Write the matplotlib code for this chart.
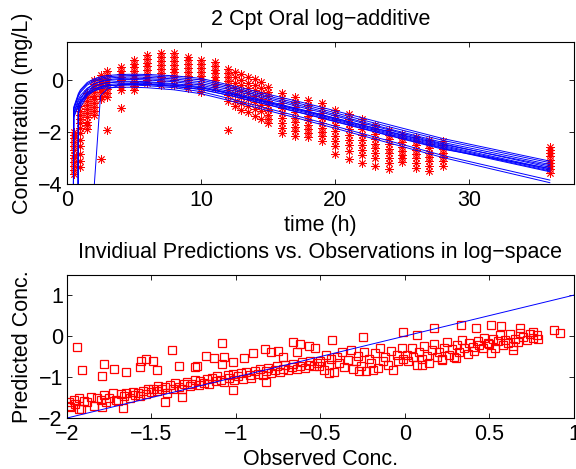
#!/usr/bin/env python3
# -*- coding: utf-8 -*-
"""
2-compartment oral PK fit (log-additive error): population of individual
fitted curves over the observed log-concentrations, plus individual
predictions vs. observations in log-space.
"""

import matplotlib
matplotlib.use('Agg')
import matplotlib.pyplot as plt
import numpy as np

nan = np.nan

# ---------------------------------------------------------------------------
# Data
# ---------------------------------------------------------------------------

# time grid of the individual fitted curves (h)
curve_times = [0.45, 0.5, 0.8, 0.85, 1.0, 1.5, 2.0, 2.5, 3.0, 4.0, 5.0, 6.0,
               8.0, 10.0, 12.0, 15.0, 18.0, 21.0, 24.0, 28.0, 36.0]

# individual fitted log-concentrations, one row per subject
curve_values = [
    [-9, -1.05, -0.60, -0.52, -0.38, -0.10, 0.04, 0.12, 0.17, 0.21, 0.22, 0.21,
     0.16, 0.06, -0.18, -0.55, -0.92, -1.32, -1.72, -2.25, -3.12],
    [-9, -1.10, -0.65, -0.57, -0.43, -0.15, -0.01, 0.07, 0.12, 0.16, 0.17, 0.16,
     0.10, 0.00, -0.24, -0.62, -0.99, -1.40, -1.80, -2.32, -3.18],
    [-9, -1.15, -0.70, -0.62, -0.48, -0.20, -0.06, 0.02, 0.07, 0.11, 0.12, 0.10,
     0.04, -0.07, -0.30, -0.68, -1.06, -1.47, -1.88, -2.40, -3.25],
    [nan, nan, -9, -1.00, -0.75, -0.35, -0.15, -0.05, 0.01, 0.06, 0.07, 0.05,
     -0.02, -0.14, -0.36, -0.74, -1.12, -1.52, -1.92, -2.45, -3.36],
    [-9, -1.25, -0.82, -0.74, -0.60, -0.32, -0.16, -0.07, -0.02, 0.02, 0.02, 0.00,
     -0.07, -0.20, -0.43, -0.82, -1.20, -1.60, -2.00, -2.52, -3.42],
    [nan, nan, -9, -1.15, -0.90, -0.48, -0.27, -0.16, -0.10, -0.05, -0.05, -0.07,
     -0.14, -0.26, -0.48, -0.86, -1.24, -1.64, -2.04, -2.56, -3.46],
    [-9, -1.30, -0.90, -0.82, -0.68, -0.40, -0.25, -0.16, -0.11, -0.08, -0.08, -0.10,
     -0.17, -0.30, -0.52, -0.90, -1.28, -1.68, -2.08, -2.60, -3.50],
    [nan, nan, nan, nan, nan, nan, -4.3, -0.60, -0.35, -0.20, -0.15, -0.15,
     -0.20, -0.30, -0.50, -0.86, -1.22, -1.60, -1.98, -2.48, -3.30],
    [nan, nan, -9, -1.30, -1.05, -0.62, -0.42, -0.30, -0.24, -0.18, -0.17, -0.18,
     -0.25, -0.37, -0.58, -0.95, -1.33, -1.72, -2.12, -2.63, -3.53],
    [-9, -1.40, -1.00, -0.92, -0.80, -0.50, -0.35, -0.27, -0.22, -0.20, -0.20, -0.22,
     -0.30, -0.45, -0.70, -1.10, -1.50, -1.92, -2.34, -2.90, -3.85],
    [-9, -1.45, -1.05, -0.97, -0.85, -0.56, -0.42, -0.34, -0.30, -0.28, -0.28, -0.30,
     -0.38, -0.53, -0.78, -1.18, -1.58, -2.00, -2.42, -2.98, -3.95],
    [nan, nan, -9, -1.20, -0.95, -0.55, -0.35, -0.25, -0.18, -0.14, -0.14, -0.16,
     -0.24, -0.36, -0.58, -0.96, -1.34, -1.74, -2.14, -2.66, -3.40],
]

# sampling times (h) and the observed log-concentrations at each time
obs_times = [0.5, 1.0, 1.5, 2.0, 2.5, 3.0, 4.0, 5.0, 6.0, 7.0, 8.0, 9.0, 10.0,
             11.0, 12.0, 12.5, 13.0, 13.5, 14.0, 14.5, 15.0, 16.0,
             17.0, 18.0, 19.0, 20.0, 21.0, 22.0, 23.0, 24.0, 25.0, 26.0, 27.0,
             28.0, 36.0]

obs_values = [
    [-2.0, -2.12, -2.25, -2.4, -2.55, -2.7, -2.88, -3.0, -3.17, -3.32, -3.46, -3.6],
    [-1.0, -1.2, -1.35, -1.5, -1.65, -1.85, -2.05, -2.3, -2.55, -2.85, -3.1, -3.35],
    [-0.5, -0.65, -0.8, -0.95, -1.1, -1.27, -1.42, -1.6, -1.75, -1.9],
    [0.0, -0.15, -0.3, -0.45, -0.6, -0.75, -0.9, -1.05, -1.2, -1.35],
    [0.2, 0.05, -0.08, -0.2, -0.33, -0.47, -0.6, -0.75, -3.05],
    [0.35, 0.2, 0.05, -0.08, -0.2, -0.34, -0.5, -0.66, -1.92],
    [0.5, 0.36, 0.24, 0.1, -0.02, -0.15, -0.27, -0.38, -1.08],
    [0.77, 0.62, 0.48, 0.34, 0.2, 0.06, -0.08, -0.22, -0.38],
    [0.96, 0.8, 0.66, 0.52, 0.38, 0.24, 0.1, -0.02, -0.12],
    [1.02, 0.87, 0.72, 0.58, 0.43, 0.28, 0.13, -0.03, -0.2],
    [1.02, 0.88, 0.73, 0.58, 0.44, 0.3, 0.15, 0.0, -0.18],
    [0.9, 0.76, 0.6, 0.46, 0.3, 0.16, 0.0, -0.15, -0.3],
    [0.77, 0.62, 0.47, 0.32, 0.16, 0.02, -0.14, -0.3, -0.45],
    [0.7, 0.55, 0.4, 0.26, 0.12, -0.02, -0.15, -0.26],
    [0.44, 0.28, 0.12, -0.04, -0.2, -0.38, -0.58, -0.8, -1.92],
    [0.32, 0.12, -0.1, -0.32, -0.55, -0.8, -1.0],
    [0.22, 0.0, -0.2, -0.42, -0.65, -0.9, -1.15],
    [0.12, -0.1, -0.3, -0.52, -0.75, -1.0, -1.25],
    [0.04, -0.18, -0.4, -0.62, -0.85, -1.1, -1.38],
    [-0.08, -0.3, -0.5, -0.72, -0.95, -1.2, -1.5],
    [-0.27, -0.45, -0.62, -0.8, -0.98, -1.15, -1.35, -1.5, -1.65],
    [-0.5, -0.7, -0.9, -1.08, -1.28, -1.47, -1.65, -1.85, -2.05],
    [-0.65, -0.85, -1.05, -1.25, -1.45, -1.62, -1.8, -1.98, -2.15],
    [-0.77, -0.97, -1.17, -1.37, -1.55, -1.73, -1.9, -2.05, -2.2],
    [-0.88, -1.08, -1.28, -1.48, -1.66, -1.84, -2.0, -2.17, -2.35],
    [-1.15, -1.35, -1.55, -1.75, -1.95, -2.15, -2.35, -2.55, -2.85],
    [-1.3, -1.5, -1.7, -1.9, -2.1, -2.3, -2.5, -2.72, -3.05],
    [-1.5, -1.7, -1.9, -2.1, -2.3, -2.5, -2.7, -2.9, -3.18],
    [-1.72, -1.9, -2.08, -2.27, -2.45, -2.63, -2.82, -3.0, -3.3],
    [-1.92, -2.1, -2.28, -2.46, -2.64, -2.82, -3.0, -3.2, -3.42],
    [-2.08, -2.24, -2.4, -2.56, -2.72, -2.88, -3.02, -3.15],
    [-2.2, -2.36, -2.52, -2.68, -2.84, -3.0, -3.18, -3.4],
    [-2.3, -2.47, -2.63, -2.8, -2.96, -3.13, -3.3, -3.5],
    [-2.35, -2.5, -2.65, -2.8, -2.95, -3.1, -3.3],
    [-2.58, -2.7, -2.82, -2.94, -3.06, -3.18, -3.3, -3.44, -3.58],
]

# individual predictions vs. observations (log-space)
obs_conc = [
    # main band, obs -2.0 .. -1.5
    -1.99, -1.98, -1.96, -1.95, -1.93, -1.92, -1.90, -1.88, -1.86, -1.84,
    -1.82, -1.80, -1.78, -1.77, -1.75, -1.73, -1.71, -1.70, -1.68, -1.66,
    -1.65, -1.63, -1.61, -1.60, -1.58, -1.57, -1.55, -1.53, -1.52, -1.50,
    # main band, obs -1.5 .. -1.0
    -1.49, -1.47, -1.46, -1.44, -1.42, -1.41, -1.39, -1.37, -1.36, -1.34,
    -1.32, -1.31, -1.29, -1.27, -1.26, -1.24, -1.22, -1.21, -1.19, -1.17,
    -1.16, -1.14, -1.12, -1.11, -1.09, -1.07, -1.05, -1.04, -1.02, -1.01,
    # main band, obs -1.0 .. -0.5
    -0.99, -0.97, -0.96, -0.94, -0.92, -0.91, -0.89, -0.87, -0.86, -0.84,
    -0.82, -0.81, -0.79, -0.77, -0.76, -0.74, -0.72, -0.71, -0.69, -0.67,
    -0.66, -0.64, -0.62, -0.61, -0.59, -0.57, -0.56, -0.54, -0.52, -0.51,
    # main band, obs -0.5 .. 0
    -0.50, -0.48, -0.47, -0.45, -0.44, -0.42, -0.40, -0.39, -0.37, -0.36,
    -0.34, -0.32, -0.31, -0.29, -0.28, -0.26, -0.24, -0.23, -0.21, -0.20,
    -0.18, -0.16, -0.15, -0.13, -0.12, -0.10, -0.08, -0.07, -0.05, -0.04,
    -0.02, -0.01,
    # main band, obs 0 .. 0.5
    0.01, 0.02, 0.04, 0.05, 0.07, 0.08, 0.10, 0.11, 0.13, 0.14,
    0.16, 0.17, 0.19, 0.20, 0.22, 0.23, 0.25, 0.26, 0.28, 0.29,
    0.31, 0.32, 0.34, 0.35, 0.37, 0.38, 0.40, 0.41, 0.43, 0.44,
    0.46, 0.47, 0.49,
    # main band, obs 0.5 .. 0.8
    0.50, 0.52, 0.53, 0.55, 0.56, 0.58, 0.59, 0.61, 0.62, 0.64,
    0.65, 0.67, 0.68, 0.70, 0.72, 0.74, 0.76, 0.78,
    # points above the band
    -1.94, -1.91, -1.78, -1.79, -1.72, -1.65, -1.57, -1.56, -1.53, -1.49,
    -1.47, -1.38, -1.34, -1.24, -1.08, -1.18, -1.13, -1.07, -1.08, -1.02,
    -1.23, -0.95, -0.90, -0.83, -0.79, -0.75, -0.72, -0.66, -0.62, -0.57,
    -0.64, -0.53, -0.43, -0.25, -0.01, 0.17, 0.07, 0.33, 0.42, 0.51,
    0.57, 0.68, 0.76, 0.79, 0.88, 0.92,
    # points below the band
    -1.42, -1.32, -1.67, -1.79, -1.93, -1.99, -1.02, -0.82, -0.45, -0.27,
    -0.19, 0.10, 0.30, 0.22, 0.51, 0.64,
]

pred_conc = [
    -1.60, -1.72, -1.55, -1.65, -1.50, -1.78, -1.58, -1.62, -1.48, -1.70,
    -1.52, -1.56, -1.45, -1.62, -1.50, -1.40, -1.55, -1.58, -1.42, -1.47,
    -1.38, -1.52, -1.36, -1.44, -1.40, -1.46, -1.34, -1.42, -1.30, -1.37,
    -1.28, -1.35, -1.22, -1.30, -1.25, -1.38, -1.20, -1.28, -1.15, -1.24,
    -1.30, -1.18, -1.12, -1.22, -1.16, -1.08, -1.20, -1.10, -1.14, -1.05,
    -1.18, -1.02, -1.10, -0.98, -1.06, -1.12, -0.95, -1.02, -0.92, -1.08,
    -0.98, -0.90, -1.05, -0.88, -0.95, -1.02, -0.85, -0.92, -0.80, -0.96,
    -0.86, -0.78, -0.90, -0.82, -0.74, -0.88, -0.80, -0.70, -0.84, -0.76,
    -0.68, -0.80, -0.72, -0.64, -0.78, -0.70, -0.62, -0.74, -0.66, -0.72,
    -0.60, -0.82, -0.45, -0.70, -0.55, -0.88, -0.50, -0.66, -0.40, -0.75,
    -0.58, -0.35, -0.80, -0.62, -0.48, -0.72, -0.38, -0.85, -0.55, -0.66,
    -0.42, -0.78, -0.30, -0.60, -0.50, -0.70, -0.36, -0.82, -0.45, -0.62,
    -0.28, -0.55,
    -0.45, -0.62, -0.30, -0.52, -0.70, -0.38, -0.55, -0.25, -0.48, -0.65,
    -0.35, -0.20, -0.50, -0.40, -0.58, -0.28, -0.15, -0.45, -0.32, -0.52,
    -0.22, -0.38, -0.10, -0.30, -0.44, -0.18, -0.26, -0.36, -0.12, -0.22,
    -0.30, -0.05, -0.18,
    -0.20, -0.08, -0.30, -0.12, 0.02, -0.22, -0.10, -0.16, 0.05, -0.25,
    -0.06, -0.14, 0.08, -0.02, -0.10, 0.04, -0.05, 0.02,
    -0.26, -0.83, -0.67, -0.98, -0.80, -0.87, -0.75, -0.60, -0.57, -0.60,
    -0.84, -0.33, -0.72, -0.75, -0.16, -0.48, -0.54, -0.50, -0.68, -0.64,
    -0.73, -0.53, -0.42, -0.32, -0.40, -0.37, -0.52, -0.14, -0.20, -0.24,
    -0.38, -0.28, -0.10, -0.02, 0.10, 0.19, 0.02, 0.27, 0.19, 0.28,
    0.25, 0.19, 0.10, -0.06, 0.15, 0.07,
    -1.62, -1.48, -1.76, -1.74, -1.77, -1.70, -1.32, -1.11, -0.91, -0.85,
    -0.83, -0.71, -0.53, -0.56, -0.42, -0.34,
]

# identity line end points
identity = [-2, 1]

# ---------------------------------------------------------------------------
# Plotting
# ---------------------------------------------------------------------------

FONT = 'Liberation Sans'
FS = 15.5
ASTERISK = (8, 2, 0)


def style_axes(ax):
    ax.tick_params(direction='in', top=True, right=True, length=3.6, width=0.6,
                   labelsize=FS)
    ax.tick_params(axis='x', pad=4.5)
    ax.tick_params(axis='y', pad=3)
    for sp in ax.spines.values():
        sp.set_linewidth(0.8)


def place_labels(ax, x_base, y_anchor):
    # fixed label positions, measured from the box like MATLAB does
    ax.xaxis.label.set_va('baseline')
    ax.xaxis.set_label_coords(0.5, x_base)
    ax.yaxis.set_label_coords(y_anchor, 0.5)


plt.rcParams['font.family'] = [FONT, 'DejaVu Sans']
plt.rcParams['axes.unicode_minus'] = True

fig = plt.figure(figsize=(5.76, 4.69), dpi=100)

# --- top panel: fitted curves and observations ---
ax1 = fig.add_axes([0.1163, 0.6077, 0.8802, 0.3028])
for t, vals in zip(obs_times, obs_values):
    ax1.plot([t] * len(vals), vals, linestyle='none', marker=ASTERISK,
             markersize=6, markeredgewidth=0.6, color='#ff0000')
for row in curve_values:
    ax1.plot(curve_times, row, color='#0000ff', linewidth=0.7)
ax1.set_xlim(0, 37.8)
ax1.set_ylim(-4, 1.46)
ax1.set_xticks([0, 10, 20, 30])
ax1.set_yticks([-4, -2, 0])
ax1.set_title('2 Cpt Oral log\u2212additive', fontsize=FS, pad=12)
ax1.set_xlabel('time (h)', fontsize=FS)
ax1.set_ylabel('Concentration (mg/L)', fontsize=FS)
style_axes(ax1)
place_labels(ax1, -0.33, -0.068)

# --- bottom panel: predictions vs observations ---
ax2 = fig.add_axes([0.1163, 0.1087, 0.8802, 0.3049])
ax2.plot(obs_conc, pred_conc, linestyle='none', marker='s', markersize=5.3,
         markerfacecolor='none', markeredgecolor='#ff0000',
         markeredgewidth=0.9)
ax2.plot(identity, identity, color='#0000ff', linewidth=0.7)
ax2.set_xlim(-2, 1)
ax2.set_ylim(-2, 1.49)
ax2.set_xticks([-2, -1.5, -1, -0.5, 0, 0.5, 1])
ax2.set_xticklabels(['\u22122', '\u22121.5', '\u22121', '\u22120.5', '0', '0.5', '1'])
ax2.set_yticks([-2, -1, 0, 1])
ax2.set_title('Invidiual Predictions vs. Observations in log\u2212space',
              fontsize=FS, pad=12.5)
ax2.set_xlabel('Observed Conc.', fontsize=FS)
ax2.set_ylabel('Predicted Conc.', fontsize=FS)
style_axes(ax2)
place_labels(ax2, -0.33, -0.068)

fig.savefig('out.png', dpi=100)
